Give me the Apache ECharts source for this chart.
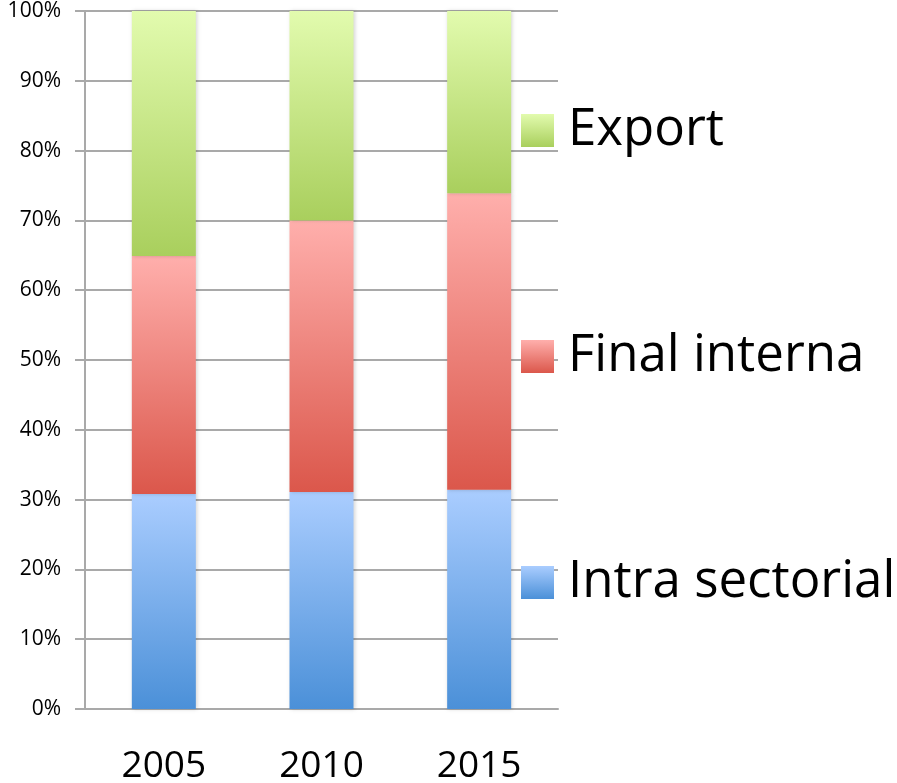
<!DOCTYPE html>
<html style="height:100%;width:100%;">
<head>
  <meta charset="utf-8">
  <title>Stacked 100% bar</title>
  <script src="https://cdn.jsdelivr.net/npm/echarts@6/dist/echarts.min.js"></script>
</head>
<body style="margin:0px;height:100%;width:100%;background:#fff;">
  <div id="main" style="width:897px;height:783px"></div>
  <script type="text/javascript">
    // data (percent of total)
    var years = ['2005', '2010', '2015'];
    var intraSectorial = [30.8, 31.1, 31.4];
    var finalInterna = [34.1, 38.9, 42.5];
    var exportShare = [35.1, 30.0, 26.1];

    function grad(top, bottom) {
      return new echarts.graphic.LinearGradient(0, 0, 0, 1, [
        { offset: 0, color: top },
        { offset: 1, color: bottom }
      ]);
    }

    var gridColor = '#a9a9a9';
    var font = '"Open Sans", sans-serif';

    // text box is 87px tall, centred on the 33px icon -> box starts 27px above the icon
    function legendAt(name, iconTop) {
      return {
        data: [{ name: name, icon: 'rect' }],
        left: 521,
        top: iconTop - 27,
        padding: 0,
        itemWidth: 33,
        itemHeight: 33,
        itemGap: 0,
        textStyle: { fontSize: 51, lineHeight: 60, fontFamily: font, color: '#000', padding: [27, 0, 0, 9] }
      };
    }

    var barShadow = { shadowBlur: 4, shadowColor: 'rgba(0,0,0,0.18)', shadowOffsetX: 1 };

    var myChart = echarts.init(document.getElementById('main'));
    var option = {
      animation: false,
      grid: { left: 85, right: 339, top: 11, bottom: 74, outerBoundsMode: 'none' },
      legend: [
        legendAt('Export', 114),
        legendAt('Final interna', 340),
        legendAt('Intra sectorial', 566)
      ],
      xAxis: {
        type: 'category',
        data: years,
        axisLine: { lineStyle: { color: gridColor, width: 2 } },
        axisTick: { length: 10, lineStyle: { color: gridColor, width: 2 } },
        axisLabel: { fontSize: 37, fontFamily: font, color: '#000', margin: 39 }
      },
      yAxis: {
        type: 'value',
        min: 0,
        max: 100,
        interval: 10,
        axisLine: { show: true, lineStyle: { color: gridColor, width: 2 } },
        axisTick: { show: true, length: 10, lineStyle: { color: gridColor, width: 2 } },
        splitLine: { lineStyle: { color: gridColor, width: 2 } },
        axisLabel: { formatter: '{value}%', fontSize: 21, fontFamily: font, color: '#000', margin: 24 }
      },
      series: [
        {
          name: 'Intra sectorial', type: 'bar', stack: 'total', barWidth: 64,
          itemStyle: Object.assign({ color: grad('#aacdff', '#4b90d8') }, barShadow),
          data: intraSectorial
        },
        {
          name: 'Final interna', type: 'bar', stack: 'total', barWidth: 64,
          itemStyle: Object.assign({ color: grad('#ffafac', '#db574b') }, barShadow),
          data: finalInterna
        },
        {
          name: 'Export', type: 'bar', stack: 'total', barWidth: 64,
          itemStyle: Object.assign({ color: grad('#e2fbae', '#a9cf5d') }, barShadow),
          data: exportShare
        }
      ]
    };
    myChart.setOption(option);
  </script>
</body>
</html>
